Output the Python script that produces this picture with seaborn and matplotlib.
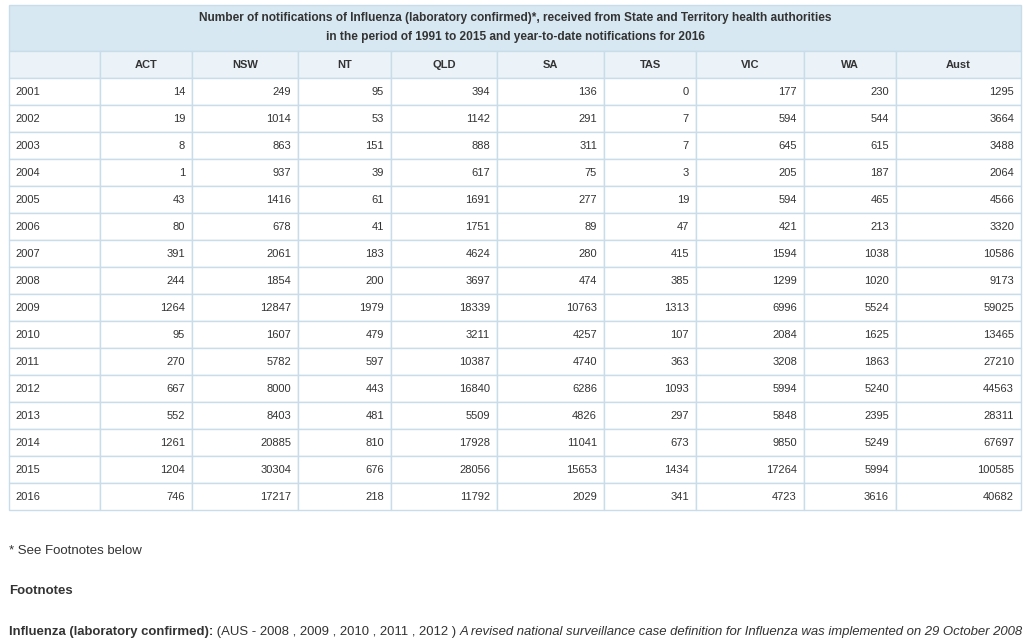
import matplotlib
matplotlib.use("Agg")
import matplotlib.pyplot as plt
from matplotlib.patches import Rectangle
import seaborn as sns

sns.set_theme(style="white")
plt.rcParams['font.family'] = ['Liberation Sans', 'DejaVu Sans']

title_lines = [
    "Number of notifications of Influenza (laboratory confirmed)*, received from State and Territory health authorities",
    "in the period of 1991 to 2015 and year-to-date notifications for 2016",
]
columns = ["ACT", "NSW", "NT", "QLD", "SA", "TAS", "VIC", "WA", "Aust"]
years = [2001, 2002, 2003, 2004, 2005, 2006, 2007, 2008, 2009, 2010, 2011, 2012, 2013, 2014, 2015, 2016]
ACT = [14, 19, 8, 1, 43, 80, 391, 244, 1264, 95, 270, 667, 552, 1261, 1204, 746]
NSW = [249, 1014, 863, 937, 1416, 678, 2061, 1854, 12847, 1607, 5782, 8000, 8403, 20885, 30304, 17217]
NT = [95, 53, 151, 39, 61, 41, 183, 200, 1979, 479, 597, 443, 481, 810, 676, 218]
QLD = [394, 1142, 888, 617, 1691, 1751, 4624, 3697, 18339, 3211, 10387, 16840, 5509, 17928, 28056, 11792]
SA = [136, 291, 311, 75, 277, 89, 280, 474, 10763, 4257, 4740, 6286, 4826, 11041, 15653, 2029]
TAS = [0, 7, 7, 3, 19, 47, 415, 385, 1313, 107, 363, 1093, 297, 673, 1434, 341]
VIC = [177, 594, 645, 205, 594, 421, 1594, 1299, 6996, 2084, 3208, 5994, 5848, 9850, 17264, 4723]
WA = [230, 544, 615, 187, 465, 213, 1038, 1020, 5524, 1625, 1863, 5240, 2395, 5249, 5994, 3616]
Aust = [1295, 3664, 3488, 2064, 4566, 3320, 10586, 9173, 59025, 13465, 27210, 44563, 28311, 67697, 100585, 40682]
series = [ACT, NSW, NT, QLD, SA, TAS, VIC, WA, Aust]

footnote_ref = "* See Footnotes below"
footnote_head = "Footnotes"
fn_bold = "Influenza (laboratory confirmed):"
fn_normal = " (AUS - 2008 , 2009 , 2010 , 2011 , 2012 ) "
fn_italic = "A revised national surveillance case definition for Influenza was implemented on 29 October 2008"

# layout (pixels)
W, H = 1031, 644
col_edges = [9, 100, 192, 298, 391, 497, 604, 696, 804, 896, 1021]
title_top, title_bot = 5, 51
head_bot = 78
row_h = 27

border = "#c9dce9"
title_bg = "#d8e8f2"
head_bg = "#ebf3f9"
txt = "#333333"

fig = plt.figure(figsize=(W / 100, H / 100), dpi=100)
ax = fig.add_axes([0, 0, 1, 1])
ax.set_xlim(0, W)
ax.set_ylim(H, 0)
ax.axis("off")

left, right = col_edges[0], col_edges[-1]
# title band
ax.add_patch(Rectangle((left, title_top), right - left, title_bot - title_top,
                       facecolor=title_bg, edgecolor=border, lw=1))
for i, line in enumerate(title_lines):
    ax.text((left + right) / 2, 18 + i * 19, line, ha="center", va="center",
            fontsize=8.6, fontweight="bold", color=txt)

# header row
for c in range(len(col_edges) - 1):
    x0, x1 = col_edges[c], col_edges[c + 1]
    ax.add_patch(Rectangle((x0, title_bot), x1 - x0, head_bot - title_bot,
                           facecolor=head_bg, edgecolor=border, lw=1))
for j, name in enumerate(columns):
    x0, x1 = col_edges[j + 1], col_edges[j + 2]
    ax.text((x0 + x1) / 2, (title_bot + head_bot) / 2 + 0.5, name, ha="center", va="center",
            fontsize=8, fontweight="bold", color=txt)

# body
for r, yr in enumerate(years):
    y0 = head_bot + r * row_h
    for c in range(len(col_edges) - 1):
        x0, x1 = col_edges[c], col_edges[c + 1]
        ax.add_patch(Rectangle((x0, y0), x1 - x0, row_h,
                               facecolor="white", edgecolor=border, lw=1))
    yc = y0 + row_h / 2 + 0.5
    ax.text(col_edges[0] + 6, yc, str(yr), ha="left", va="center", fontsize=8, color=txt)
    for j, s in enumerate(series):
        ax.text(col_edges[j + 2] - 7, yc, str(s[r]), ha="right", va="center",
                fontsize=8, color=txt)

# footnotes
ax.text(9, 551, footnote_ref, ha="left", va="center", fontsize=9.5, color=txt)
ax.text(9, 591, footnote_head, ha="left", va="center", fontsize=9.5, color=txt,
        fontweight="bold")

fig.canvas.draw()
renderer = fig.canvas.get_renderer()
inv = ax.transData.inverted()


def place_line(fs):
    x = 9
    made = []
    for piece, weight, style in [(fn_bold, "bold", "normal"), (fn_normal, "normal", "normal"),
                                 (fn_italic, "normal", "italic")]:
        t = ax.text(x, 632, piece, ha="left", va="center", fontsize=fs, color=txt,
                    fontweight=weight, fontstyle=style)
        bb = t.get_window_extent(renderer=renderer)
        x = inv.transform((bb.x1, bb.y0))[0]
        made.append(t)
    return x, made


end, made = place_line(9.5)
target = 1026
if end > target:
    fs = 9.5 * (target - 9) / (end - 9)
    for t in made:
        t.remove()
    place_line(fs)

fig.savefig("out.png", dpi=100, facecolor="white")
